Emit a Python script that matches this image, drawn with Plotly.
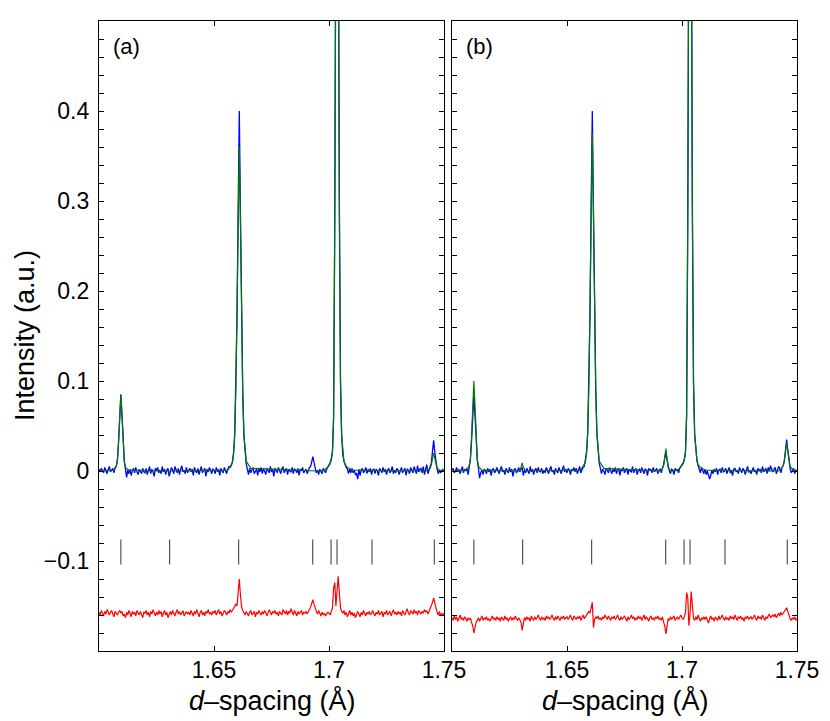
import numpy as np
import plotly.graph_objects as go

# ---------------- data ----------------
# sampling grid for the observed / difference patterns (d-spacing, Å)
d_start, d_stop, n_pts = 1.60, 1.75, 301

obs_a = [
 .002,-.001,.003,.000,-.002,.004,.001,-.003,.002,.005,-.001,.001,.003,-.002,.004,.005,.012,.032,.065,.085,
 .062,.030,.011,.002,-.007,.001,-.003,.002,-.005,.000,.003,-.002,.004,-.001,-.004,.002,.000,-.003,.003,-.001,
 -.002,.003,-.004,.001,.005,-.003,.002,-.001,-.006,.003,.000,.004,-.002,.001,-.003,.005,-.001,.002,-.004,.001,
 .003,-.006,-.002,.004,.001,-.003,.005,.000,-.002,.003,-.004,.002,.006,-.001,.001,-.003,.004,-.002,.000,.003,
 -.001,.002,-.005,.004,.000,-.002,.003,-.004,.001,.005,-.002,.000,.003,-.006,.002,-.001,.004,.001,-.003,.002,
 .001,-.003,.004,-.001,.002,-.005,.003,.000,-.002,.004,.001,-.003,.002,.005,.004,.006,.010,.020,.040,.090,
 .170,.290,.400,.285,.165,.088,.040,.021,.008,.002,-.004,.003,-.002,.001,.004,-.003,.000,.002,-.005,.003,
 -.001,.004,-.003,.002,.000,-.004,.003,.001,-.002,.005,-.001,.002,-.006,.003,.000,-.002,.004,.001,-.003,.002,
 .005,-.002,.001,.003,-.004,.002,.000,-.001,.004,-.003,.002,.001,-.002,.003,-.005,.002,.000,.004,-.002,.001,
 .002,-.003,.001,.004,.005,.010,.016,.009,.003,-.002,.001,-.004,.002,.000,-.003,.003,.001,-.002,.002,.004,
 .006,.009,.014,.022,.060,.280,.650,1.00,.680,.300,.100,.040,.018,.011,.007,.004,.002,-.003,.003,-.002,
 .003,-.002,.001,-.004,-.003,-.009,.002,-.005,.001,.003,-.002,.000,.004,-.003,.002,-.001,.003,-.004,.001,.002,
 -.003,.002,.000,-.005,.003,.001,-.002,.004,-.001,.002,-.004,.001,.003,-.002,.000,.005,-.003,.001,-.002,.003,
 .001,-.004,.002,.004,-.002,.000,.003,-.005,.002,.001,-.003,.004,.000,-.002,.005,.001,-.003,.006,-.001,.002,
 .003,-.002,.005,-.004,.001,.007,-.003,.002,.004,.009,.022,.034,.021,.008,.002,-.003,.001,-.002,.000,.002,
 -.001]

obs_b = [
 .001,.003,-.002,.000,.004,-.001,.002,-.003,.001,.005,-.002,.002,.000,.003,-.004,.005,.013,.033,.066,.083,
 .062,.031,.012,.003,-.008,-.002,.001,-.004,.002,.000,-.003,.003,-.001,.002,-.005,.001,.003,-.002,.000,.004,
 .000,-.003,.002,.005,-.001,.001,-.004,.003,.000,-.002,.004,-.001,.002,-.006,.001,.003,-.002,.000,.004,-.001,
 .002,.004,-.005,.001,-.002,.003,.000,-.003,.005,-.001,.002,-.004,.001,.003,-.002,.004,.000,-.001,.003,-.003,
 .001,-.002,.004,.000,-.003,.002,.005,-.001,.001,-.004,.003,.000,-.002,.004,.001,-.003,.002,.006,-.001,.002,
 -.002,.003,.001,-.004,.002,.000,.004,-.001,.003,-.003,.001,.005,-.002,.002,.004,.005,.011,.021,.042,.092,
 .172,.295,.400,.290,.168,.090,.042,.020,.009,.003,-.003,.002,.000,-.004,.003,.001,-.002,.004,.000,-.003,
 .002,-.001,.004,-.003,.001,.003,-.005,.002,.000,.004,-.002,.001,.003,-.004,.002,.000,-.001,.005,-.002,.001,
 .003,-.004,.001,.002,-.002,.004,.000,-.003,.002,.001,-.005,.003,.000,.002,-.002,.004,-.001,.001,.003,-.003,
 .001,.002,-.002,.003,.007,.014,.021,.012,.004,.000,-.003,.002,.001,-.004,.003,.000,.002,-.002,.003,.005,
 .007,.009,.013,.021,.062,.280,.650,1.00,.680,.300,.100,.042,.020,.012,.006,.003,-.002,.004,.000,-.003,
 .002,-.004,.000,-.006,-.009,-.005,.001,-.003,.002,-.001,.003,-.004,.001,.002,-.002,.004,-.001,.000,.003,-.003,
 .001,.004,-.002,.000,-.005,.002,.003,-.001,.001,-.003,.004,.000,-.002,.003,.001,-.004,.002,.005,-.001,.000,
 -.003,.002,.004,-.001,.001,-.004,.003,.000,.002,-.002,.005,-.001,.001,.003,-.003,.004,.000,.006,.002,-.001,
 .002,.004,-.003,.001,.005,.003,-.002,.004,.006,.011,.024,.035,.023,.010,.003,-.002,.001,.003,-.003,.001,
 .000]

diff_a = [
 -.157,-.160,-.155,-.158,-.161,-.156,-.159,-.154,-.158,-.160,-.157,-.155,-.159,-.162,-.156,-.158,-.160,-.157,-.155,-.158,
 -.156,-.161,-.159,-.163,-.157,-.160,-.155,-.158,-.162,-.156,-.159,-.157,-.161,-.155,-.158,-.160,-.156,-.159,-.163,-.157,
 -.158,-.155,-.160,-.157,-.162,-.156,-.159,-.154,-.158,-.161,-.157,-.160,-.155,-.159,-.156,-.162,-.158,-.155,-.160,-.157,
 -.163,-.159,-.156,-.160,-.155,-.158,-.161,-.157,-.154,-.159,-.156,-.160,-.157,-.155,-.161,-.158,-.156,-.159,-.157,-.160,
 -.155,-.158,-.161,-.156,-.159,-.154,-.158,-.162,-.157,-.155,-.160,-.157,-.161,-.156,-.158,-.154,-.159,-.157,-.160,-.156,
 -.158,-.155,-.160,-.157,-.154,-.159,-.156,-.161,-.158,-.155,-.157,-.160,-.156,-.158,-.154,-.157,-.155,-.152,-.150,-.148,
 -.150,-.135,-.120,-.138,-.151,-.155,-.158,-.160,-.156,-.159,-.161,-.157,-.155,-.160,-.158,-.156,-.162,-.157,-.159,-.155,
 -.158,-.160,-.156,-.159,-.155,-.157,-.161,-.158,-.154,-.157,-.160,-.156,-.158,-.155,-.159,-.157,-.161,-.156,-.158,-.160,
 -.154,-.157,-.159,-.155,-.160,-.156,-.158,-.153,-.157,-.160,-.155,-.158,-.161,-.156,-.159,-.157,-.155,-.160,-.157,-.158,
 -.156,-.159,-.157,-.154,-.151,-.147,-.143,-.148,-.153,-.156,-.159,-.155,-.158,-.161,-.157,-.160,-.158,-.161,-.159,-.157,
 -.158,-.160,-.156,-.152,-.130,-.124,-.150,-.132,-.117,-.135,-.152,-.156,-.158,-.155,-.160,-.157,-.162,-.159,-.155,-.160,
 -.157,-.161,-.158,-.163,-.160,-.156,-.159,-.162,-.157,-.160,-.155,-.158,-.161,-.157,-.159,-.156,-.160,-.158,-.155,-.159,
 -.161,-.157,-.159,-.155,-.160,-.158,-.156,-.162,-.157,-.159,-.155,-.160,-.158,-.156,-.161,-.157,-.154,-.159,-.157,-.160,
 -.156,-.159,-.157,-.161,-.155,-.158,-.160,-.156,-.153,-.158,-.160,-.155,-.157,-.159,-.154,-.158,-.156,-.160,-.155,-.157,
 -.159,-.156,-.158,-.154,-.157,-.155,-.159,-.156,-.153,-.150,-.146,-.141,-.147,-.152,-.157,-.160,-.156,-.161,-.158,-.160,
 -.158]

diff_b = [
 -.163,-.166,-.161,-.165,-.162,-.167,-.164,-.160,-.165,-.163,-.166,-.162,-.164,-.167,-.163,-.165,-.164,-.168,-.172,-.180,
 -.173,-.168,-.166,-.163,-.167,-.164,-.161,-.166,-.163,-.165,-.162,-.166,-.164,-.167,-.163,-.161,-.165,-.163,-.166,-.162,
 -.165,-.163,-.167,-.162,-.164,-.166,-.161,-.165,-.163,-.167,-.164,-.162,-.166,-.163,-.165,-.161,-.164,-.166,-.163,-.165,
 -.168,-.177,-.168,-.163,-.166,-.162,-.165,-.163,-.167,-.161,-.164,-.166,-.162,-.165,-.163,-.160,-.164,-.166,-.162,-.165,
 -.163,-.166,-.161,-.164,-.162,-.165,-.163,-.160,-.164,-.166,-.162,-.165,-.161,-.163,-.166,-.162,-.164,-.161,-.165,-.163,
 -.162,-.165,-.163,-.160,-.164,-.166,-.161,-.163,-.165,-.162,-.164,-.161,-.166,-.163,-.160,-.164,-.162,-.161,-.158,-.156,
 -.158,-.150,-.146,-.174,-.165,-.162,-.164,-.161,-.165,-.163,-.166,-.162,-.164,-.160,-.163,-.165,-.161,-.164,-.166,-.162,
 -.164,-.161,-.165,-.163,-.160,-.164,-.166,-.162,-.165,-.163,-.161,-.164,-.167,-.162,-.165,-.163,-.160,-.164,-.162,-.166,
 -.163,-.165,-.161,-.164,-.162,-.166,-.163,-.160,-.165,-.162,-.164,-.167,-.163,-.161,-.165,-.163,-.166,-.162,-.164,-.161,
 -.165,-.163,-.166,-.162,-.168,-.172,-.181,-.170,-.164,-.166,-.162,-.165,-.163,-.161,-.166,-.164,-.162,-.165,-.163,-.160,
 -.163,-.165,-.162,-.158,-.135,-.141,-.172,-.158,-.134,-.150,-.164,-.166,-.162,-.165,-.160,-.164,-.167,-.163,-.165,-.162,
 -.165,-.162,-.166,-.169,-.164,-.161,-.165,-.163,-.167,-.162,-.164,-.166,-.161,-.165,-.163,-.160,-.164,-.166,-.162,-.165,
 -.163,-.166,-.161,-.164,-.162,-.165,-.160,-.163,-.166,-.162,-.164,-.161,-.165,-.163,-.167,-.162,-.164,-.161,-.165,-.163,
 -.162,-.165,-.163,-.160,-.164,-.166,-.161,-.164,-.162,-.165,-.160,-.163,-.166,-.162,-.164,-.161,-.159,-.163,-.161,-.160,
 -.162,-.159,-.163,-.160,-.158,-.161,-.157,-.160,-.158,-.155,-.153,-.152,-.156,-.161,-.164,-.166,-.163,-.165,-.162,-.166,
 -.164]

# calculated (fitted) profiles, on their own sample points
calc_d = [1.600, 1.6065, 1.6075, 1.608, 1.6085, 1.609, 1.6095, 1.610, 1.6105, 1.611, 1.6115, 1.613,
          1.629, 1.6295, 1.630, 1.6305, 1.631, 1.6315, 1.632,
          1.656, 1.658, 1.6585, 1.659, 1.6595, 1.660, 1.6605, 1.661, 1.6615, 1.662, 1.6625, 1.663, 1.6635, 1.664, 1.666,
          1.691, 1.692, 1.6925, 1.693, 1.6935, 1.694, 1.695,
          1.698, 1.699, 1.700, 1.7005, 1.701, 1.7015, 1.702, 1.7025, 1.703, 1.7035, 1.704, 1.7045, 1.705, 1.7055,
          1.706, 1.7065, 1.707, 1.708, 1.710,
          1.742, 1.743, 1.744, 1.7445, 1.745, 1.7455, 1.746, 1.7465, 1.747, 1.748, 1.750]

calc_a = [0, .001, .005, .012, .032, .065, .085, .062, .030, .011, .004, .001,
          0, 0, 0, 0, 0, 0, 0,
          .001, .009, .019, .040, .088, .165, .280, .360, .275, .160, .085, .040, .020, .011, .003,
          0, 0, 0, 0, 0, 0, 0,
          .001, .003, .006, .008, .012, .020, .058, .270, .640, .980, .670, .290, .098, .040, .019, .011, .007, .004, .001,
          0, .001, .003, .007, .014, .020, .014, .007, .003, .001, 0]

calc_b = [0, .001, .006, .014, .038, .077, .100, .073, .036, .013, .005, .001,
          0, .001, .004, .009, .004, .001, 0,
          .001, .010, .020, .042, .092, .172, .290, .375, .285, .168, .090, .042, .021, .011, .003,
          0, .006, .015, .025, .013, .004, 0,
          .001, .003, .006, .008, .012, .020, .060, .270, .640, .980, .670, .290, .098, .040, .019, .011, .007, .004, .001,
          0, .002, .006, .012, .024, .031, .023, .011, .005, .002, 0]

# reflection positions (tick marks) and the level at which they are drawn
refl_d = [1.6095, 1.6307, 1.6607, 1.6929, 1.7009, 1.7035, 1.7187, 1.7458]
refl_level = -0.09

x_tickvals = [1.65, 1.70, 1.75]
x_ticktext = ["1.65", "1.7", "1.75"]
y_tickvals = [-0.1, 0.0, 0.1, 0.2, 0.3, 0.4]
y_ticktext = ["\u22120.1", "0", "0.1", "0.2", "0.3", "0.4"]

for name, arr in [("obs_a", obs_a), ("obs_b", obs_b), ("diff_a", diff_a), ("diff_b", diff_b)]:
    if len(arr) != n_pts:
        raise ValueError(f"{name} has {len(arr)} points")
if len(calc_a) != len(calc_d) or len(calc_b) != len(calc_d):
    raise ValueError(f"calc lengths {len(calc_d)} {len(calc_a)} {len(calc_b)}")

d_grid = np.linspace(d_start, d_stop, n_pts)

# ---------------- figure ----------------
FONT = "Liberation Sans"
BLUE, GREEN, RED, TICKC = "#0000ff", "#007a00", "#ff0000", "#555555"

fig = go.Figure()
panels = [("x", "y", obs_a, calc_a, diff_a), ("x2", "y2", obs_b, calc_b, diff_b)]
for xa, ya, obs, calc, diff in panels:
    fig.add_trace(go.Scatter(x=d_grid, y=obs, mode="lines", xaxis=xa, yaxis=ya,
                             line=dict(color=BLUE, width=1.3), showlegend=False))
    fig.add_trace(go.Scatter(x=calc_d, y=calc, mode="lines", xaxis=xa, yaxis=ya,
                             line=dict(color=GREEN, width=1.2), showlegend=False))
    fig.add_trace(go.Scatter(x=d_grid, y=diff, mode="lines", xaxis=xa, yaxis=ya,
                             line=dict(color=RED, width=1.2), showlegend=False))
    fig.add_trace(go.Scatter(x=refl_d, y=[refl_level] * len(refl_d), mode="markers",
                             xaxis=xa, yaxis=ya, showlegend=False,
                             marker=dict(symbol="line-ns-open", size=18, color=TICKC,
                                         line=dict(color=TICKC, width=1.2))))

# the page body adds an 8 px offset, so the figure is 8 px smaller than the window
OFF = 8
W, H = 830 - OFF, 721 - OFF
L, R, T, B = 99 - OFF, 33, 21 - OFF, 70
pw = W - L - R
split = 345 / pw

xcommon = dict(range=[d_start, d_stop], tickmode="array", tickvals=x_tickvals, ticktext=x_ticktext,
               ticks="inside", ticklen=5, tickwidth=1, tickcolor="black",
               showline=True, linecolor="black", linewidth=1.3, mirror="ticks",
               showgrid=False, zeroline=False, ticklabelstandoff=-2,
               tickfont=dict(family=FONT, size=23, color="black"))
ycommon = dict(range=[-0.2, 0.5], tickmode="array", tickvals=y_tickvals, ticktext=y_ticktext,
               ticks="inside", ticklen=5, tickwidth=1, tickcolor="black",
               minor=dict(tickmode="linear", tick0=0, dtick=0.02, ticks="inside",
                          ticklen=5, tickwidth=1, tickcolor="black"),
               showline=True, linecolor="black", linewidth=1.3, mirror="ticks",
               showgrid=False, zeroline=False, ticklabelstandoff=4,
               tickfont=dict(family=FONT, size=23, color="black"))

fig.update_layout(
    width=W, height=H,
    margin=dict(l=L, r=R, t=T, b=B),
    paper_bgcolor="white", plot_bgcolor="white",
    font=dict(family=FONT, color="black"),
    xaxis=dict(domain=[0, split], anchor="y", **xcommon),
    xaxis2=dict(domain=[1 - split, 1], anchor="y2", **xcommon),
    yaxis=dict(domain=[0, 1], anchor="x", **ycommon),
    yaxis2=dict(domain=[0, 1], anchor="x2", showticklabels=False, **ycommon),
)

def px_x(p):
    return (p - OFF - L) / pw

def px_y(p):
    return (H - B - (p - OFF)) / (H - T - B)

ann = [
    dict(text="(a)", x=px_x(111), y=px_y(47), xanchor="left", yanchor="middle",
         font=dict(size=22)),
    dict(text="(b)", x=px_x(464), y=px_y(47), xanchor="left", yanchor="middle",
         font=dict(size=22)),
    dict(text="Intensity (a.u.)", x=px_x(25), y=px_y(336), xanchor="center", yanchor="middle",
         textangle=-90, font=dict(size=27)),
    dict(text="<i>d</i>–spacing (Å)", x=px_x(272), y=px_y(700), xanchor="center", yanchor="middle",
         font=dict(size=27)),
    dict(text="<i>d</i>–spacing (Å)", x=px_x(625), y=px_y(700), xanchor="center", yanchor="middle",
         font=dict(size=27)),
]
for a in ann:
    a.update(xref="paper", yref="paper", showarrow=False)
    fig.add_annotation(**a)

fig.write_html("out.html")
